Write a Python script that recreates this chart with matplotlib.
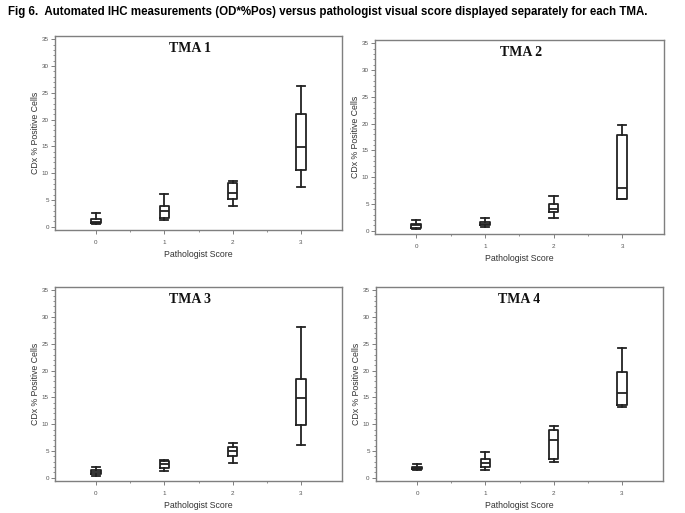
import matplotlib
matplotlib.use("Agg")
import matplotlib.pyplot as plt
from matplotlib.ticker import MultipleLocator, FixedLocator

scores = [0, 1, 2, 3]
tma_names = ["TMA 1", "TMA 2", "TMA 3", "TMA 4"]

# each list: values per score 0..3
tma1_whislo = [0.5, 1.25, 3.9, 7.5]
tma1_q1 = [0.62, 1.56, 5.1, 10.6]
tma1_med = [0.93, 2.9, 6.35, 14.9]
tma1_q3 = [1.37, 3.86, 8.1, 21.0]
tma1_whishi = [2.5, 6.1, 8.6, 26.3]

tma2_whislo = [0.31, 0.69, 2.43, 5.9]
tma2_q1 = [0.56, 1.0, 3.43, 6.0]
tma2_med = [1.0, 1.31, 4.0, 8.0]
tma2_q3 = [1.31, 1.68, 5.05, 17.8]
tma2_whishi = [2.06, 2.37, 6.5, 19.65]

tma3_whislo = [0.37, 1.24, 2.73, 6.15]
tma3_q1 = [0.62, 1.86, 4.1, 9.93]
tma3_med = [1.05, 2.48, 5.03, 14.8]
tma3_q3 = [1.5, 3.04, 5.7, 18.4]
tma3_whishi = [2.0, 3.4, 6.5, 28.05]

tma4_whislo = [1.37, 1.37, 2.93, 13.3]
tma4_q1 = [1.56, 2.1, 3.42, 13.6]
tma4_med = [1.87, 2.8, 7.04, 15.9]
tma4_q3 = [2.1, 3.42, 8.97, 19.7]
tma4_whishi = [2.6, 4.73, 9.7, 24.3]

y_ticks = [0, 5, 10, 15, 20, 25, 30, 35]

panels = [
    (tma1_whislo, tma1_q1, tma1_med, tma1_q3, tma1_whishi),
    (tma2_whislo, tma2_q1, tma2_med, tma2_q3, tma2_whishi),
    (tma3_whislo, tma3_q1, tma3_med, tma3_q3, tma3_whishi),
    (tma4_whislo, tma4_q1, tma4_med, tma4_q3, tma4_whishi),
]

W, H = 685, 513
fig = plt.figure(figsize=(W / 100, H / 100), dpi=100)
fig.patch.set_facecolor("white")

# pixel rectangles: left, top, right, bottom
rects = [(55, 36, 342, 230), (375, 40, 663.5, 234),
         (55, 287, 342, 481), (376, 287, 663, 481)]
title_x = [0.47, 0.505, 0.47, 0.50]

spine_col = "#7f7f7f"
txt_col = "#555555"
box_col = "#222222"

for i, (r, data) in enumerate(zip(rects, panels)):
    l, t, rr, b = r
    ax = fig.add_axes([l / W, 1 - b / H, (rr - l) / W, (b - t) / H])
    wl, q1, med, q3, wh = data
    stats = []
    for k in range(len(scores)):
        stats.append(dict(whislo=wl[k], q1=q1[k], med=med[k], q3=q3[k],
                          whishi=wh[k], fliers=[]))
    lp = dict(color=box_col, linewidth=1.3)
    ax.bxp(stats, positions=scores, widths=0.14, showfliers=False,
           boxprops=lp, whiskerprops=lp, capprops=lp, medianprops=lp,
           capwidths=0.12, manage_ticks=False)
    ax.set_xlim(-0.6, 3.6)
    ax.set_ylim(-0.6, 35.6)
    ax.set_xticks(scores)
    ax.set_xticklabels([str(s) for s in scores])
    ax.xaxis.set_minor_locator(FixedLocator([0.5, 1.5, 2.5]))
    ax.set_yticks(y_ticks)
    ax.yaxis.set_minor_locator(MultipleLocator(1))
    for s in ax.spines.values():
        s.set_color(spine_col)
        s.set_linewidth(1.0)
    ax.tick_params(axis="both", which="major", labelsize=4.5, labelcolor=txt_col,
                   color=spine_col, length=3, width=0.7, pad=1.5)
    ax.tick_params(axis="both", which="minor", color=spine_col, length=1.5, width=0.6)
    ax.tick_params(axis="x", which="major", pad=4)
    for lab in ax.get_xticklabels() + ax.get_yticklabels():
        lab.set_family("Liberation Sans")
    ax.set_ylabel("CDx % Positive Cells", fontsize=6.3, color="#333333",
                  family="Liberation Sans", labelpad=1)
    ax.set_xlabel("Pathologist Score", fontsize=6.3, color="#333333",
                  family="Liberation Sans", labelpad=4)
    ax.text(title_x[i], 0.935, tma_names[i], transform=ax.transAxes,
            ha="center", va="center", fontsize=10, fontweight="bold",
            family="Liberation Serif", color="#111111")

fig.text(8 / W, 1 - 12 / H,
         "Fig 6.  Automated IHC measurements (OD*%Pos) versus pathologist visual score displayed separately for each TMA.",
         ha="left", va="center", fontsize=8.3, fontweight="bold",
         family="Liberation Sans", color="black")

fig.savefig("out.png", dpi=100, facecolor="white")
